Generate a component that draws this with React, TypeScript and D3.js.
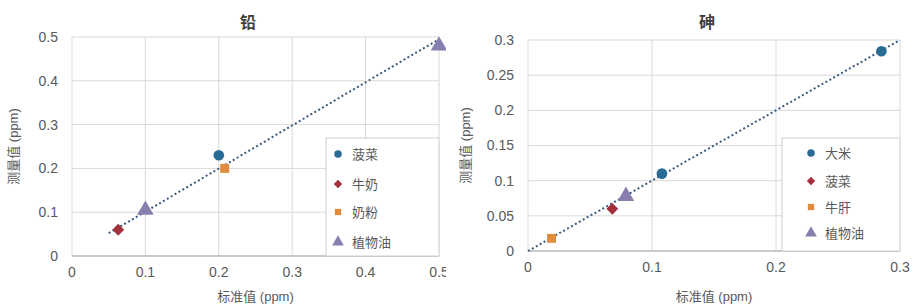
import * as d3 from "d3";

// 铅 (lead) panel data
const leadSeriesNames = ["菠菜", "牛奶", "奶粉", "植物油"];
const leadSpinach = [{ x: 0.2, y: 0.23 }];
const leadMilk = [{ x: 0.063, y: 0.06 }];
const leadMilkPowder = [{ x: 0.208, y: 0.2 }];
const leadOil = [
  { x: 0.1, y: 0.105 },
  { x: 0.5, y: 0.48 },
];
const leadTrend = [
  { x: 0.05, y: 0.052 },
  { x: 0.5, y: 0.495 },
];
const leadXTicks = [0, 0.1, 0.2, 0.3, 0.4, 0.5];
const leadYTicks = [0, 0.1, 0.2, 0.3, 0.4, 0.5];

// 砷 (arsenic) panel data
const arsenicSeriesNames = ["大米", "菠菜", "牛肝", "植物油"];
const arsenicRice = [
  { x: 0.108, y: 0.11 },
  { x: 0.285, y: 0.284 },
];
const arsenicSpinach = [{ x: 0.068, y: 0.06 }];
const arsenicLiver = [{ x: 0.019, y: 0.018 }];
const arsenicOil = [{ x: 0.079, y: 0.078 }];
const arsenicTrend = [
  { x: 0, y: 0 },
  { x: 0.3, y: 0.3 },
];
const arsenicXTicks = [0, 0.1, 0.2, 0.3];
const arsenicYTicks = [0, 0.05, 0.1, 0.15, 0.2, 0.25, 0.3];

const colors = ["#2a6b96", "#a3303d", "#e08b3e", "#8780ae"];
// the diamond is a square turned by 45 degrees
const symbols = [d3.symbolCircle, d3.symbolSquare, d3.symbolSquare, d3.symbolTriangle];
const symbolTurn = [0, 45, 0, 0];
const symbolSizes = [90, 70, 80, 120];
const FONT = "'Liberation Sans', Arial, 'Noto Sans CJK SC', sans-serif";

type Pt = { x: number; y: number };

interface PanelProps {
  id: string;
  title: string;
  names: string[];
  series: Pt[][];
  trend: Pt[];
  xTicks: number[];
  yTicks: number[];
  xMax: number;
  yMax: number;
  left: number;
  right: number;
  top: number;
  bottom: number;
  clipRight: number;
  titleX: number;
  yLabelX: number;
  tickEnd: number;
  legend: { x0: number; y0: number; x1: number; y1: number; itemY: number[]; markX: number; textX: number };
}

function Panel(p: PanelProps) {
  const x = d3.scaleLinear().domain([0, p.xMax]).range([p.left, p.right]);
  const y = d3.scaleLinear().domain([0, p.yMax]).range([p.bottom, p.top]);
  const line = d3
    .line<Pt>()
    .x((d) => x(d.x))
    .y((d) => y(d.y));
  const xTitleX = (p.left + p.right) / 2;
  return (
    <g clipPath={`url(#${p.id})`}>
      <defs>
        <clipPath id={p.id}>
          <rect x={0} y={0} width={p.clipRight} height={308} />
        </clipPath>
      </defs>
      {/* grid */}
      {p.yTicks.map((t) => (
        <line key={"gy" + t} x1={p.left} x2={p.right} y1={y(t)} y2={y(t)} stroke="#d9d9d9" strokeWidth={1} />
      ))}
      {p.xTicks.map((t) => (
        <line key={"gx" + t} x1={x(t)} x2={x(t)} y1={p.top} y2={p.bottom} stroke="#d9d9d9" strokeWidth={1} />
      ))}
      <line x1={p.left} x2={p.right} y1={p.bottom} y2={p.bottom} stroke="#bfbfbf" strokeWidth={1.5} />
      {/* tick labels */}
      {p.yTicks.map((t) => (
        <text key={"ty" + t} x={p.tickEnd} y={y(t)} dy="0.35em" textAnchor="end" fontSize={14} fill="#595959" fontFamily={FONT}>
          {String(t)}
        </text>
      ))}
      {p.xTicks.map((t) => (
        <text key={"tx" + t} x={x(t)} y={p.bottom + 21} textAnchor="middle" fontSize={14} fill="#595959" fontFamily={FONT}>
          {String(t)}
        </text>
      ))}
      {/* titles */}
      <text x={p.titleX} y={28} textAnchor="middle" fontSize={16} fontWeight="bold" fill="#404040" fontFamily={FONT}>
        {p.title}
      </text>
      <text x={xTitleX} y={301} textAnchor="middle" fontSize={13} fill="#595959" fontFamily={FONT}>
        标准值 (ppm)
      </text>
      <text
        transform={`translate(${p.yLabelX},${(p.top + p.bottom) / 2}) rotate(-90)`}
        textAnchor="middle"
        fontSize={13}
        fill="#595959"
        fontFamily={FONT}
      >
        测量值 (ppm)
      </text>
      {/* trend line */}
      <path d={line(p.trend) ?? ""} fill="none" stroke="#3a5a80" strokeWidth={2} strokeDasharray="2 2.5" />
      {/* markers */}
      {p.series.map((s, i) =>
        s.map((d, j) => (
          <path
            key={`m${i}-${j}`}
            d={d3.symbol().type(symbols[i]).size(symbolSizes[i])() ?? ""}
            transform={`translate(${x(d.x)},${y(d.y)}) rotate(${symbolTurn[i]})`}
            fill={colors[i]}
          />
        ))
      )}
      {/* legend */}
      <rect
        x={p.legend.x0}
        y={p.legend.y0}
        width={p.legend.x1 - p.legend.x0}
        height={p.legend.y1 - p.legend.y0}
        fill="#fff"
        stroke="#d0d0d0"
      />
      {p.names.map((n, i) => (
        <g key={"l" + i}>
          <path
            d={d3.symbol().type(symbols[i]).size(symbolSizes[i] * 0.5)() ?? ""}
            transform={`translate(${p.legend.markX},${p.legend.itemY[i]}) rotate(${symbolTurn[i]})`}
            fill={colors[i]}
          />
          <text x={p.legend.textX} y={p.legend.itemY[i]} dy="0.35em" fontSize={13} fill="#595959" fontFamily={FONT}>
            {n}
          </text>
        </g>
      ))}
    </g>
  );
}

export default function App() {
  return (
    <svg width={913} height={308} style={{ position: "absolute", left: 0, top: 0, background: "#fff" }}>
      <rect width={913} height={308} fill="#fff" />
      <Panel
        id="clipLead"
        title="铅"
        names={leadSeriesNames}
        series={[leadSpinach, leadMilk, leadMilkPowder, leadOil]}
        trend={leadTrend}
        xTicks={leadXTicks}
        yTicks={leadYTicks}
        xMax={0.5}
        yMax={0.5}
        left={72}
        right={439}
        top={37}
        bottom={256}
        clipRight={446}
        titleX={248}
        yLabelX={18}
        tickEnd={58}
        legend={{ x0: 326, y0: 138, x1: 439, y1: 256, itemY: [154, 184, 212, 242], markX: 338, textX: 352 }}
      />
      <Panel
        id="clipArsenic"
        title="砷"
        names={arsenicSeriesNames}
        series={[arsenicRice, arsenicSpinach, arsenicLiver, arsenicOil]}
        trend={arsenicTrend}
        xTicks={arsenicXTicks}
        yTicks={arsenicYTicks}
        xMax={0.3}
        yMax={0.3}
        left={528}
        right={900}
        top={40}
        bottom={251}
        clipRight={913}
        titleX={707}
        yLabelX={470}
        tickEnd={514}
        legend={{ x0: 782, y0: 138, x1: 900, y1: 251, itemY: [153, 181, 207, 233], markX: 811, textX: 825 }}
      />
    </svg>
  );
}
